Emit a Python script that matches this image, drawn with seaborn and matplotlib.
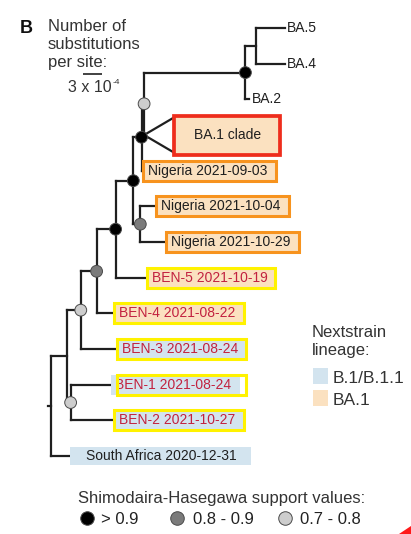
import matplotlib
matplotlib.use("Agg")
import matplotlib.pyplot as plt
from matplotlib.patches import Rectangle, Polygon
import pandas as pd
import seaborn as sns

# ---------------------------------------------------------------------------
# Tree: nodes in pre-order (children listed top to bottom),
# branch lengths in units of 1e-4 substitutions per site
# ---------------------------------------------------------------------------
node_name = ["root", "A", "B", "D", "E", "F", "G", "I", "J", "K",
             "BA.5", "BA.4", "BA.2", "BA.1 clade", "Nigeria 2021-09-03",
             "H", "Nigeria 2021-10-04", "Nigeria 2021-10-29",
             "BEN-5 2021-10-19", "BEN-4 2021-08-22", "BEN-3 2021-08-24",
             "C", "BEN-1 2021-08-24", "BEN-2 2021-10-27",
             "South Africa 2020-12-31"]
node_parent = [None, "root", "A", "B", "D", "E", "F", "G", "I", "J",
               "K", "K", "J", "I", "G",
               "F", "H", "H",
               "E", "D", "B",
               "A", "C", "C",
               "root"]
branch_len = [0.0, 2.5, 2.2, 2.5, 3.0, 2.8, 1.3, 0.4, 16.0, 1.6,
              4.6, 4.6, 0.6, 4.8, 0.3,
              1.1, 2.5, 4.1,
              4.9, 2.8, 5.7,
              0.6, 6.3, 6.9,
              3.0]

# Shimodaira-Hasegawa support of internal nodes
support_node = ["G", "I", "J", "F", "H", "E", "D", "B", "C"]
support_class = ["> 0.9", "0.7 - 0.8", "> 0.9", "> 0.9", "0.8 - 0.9",
                 "> 0.9", "0.8 - 0.9", "0.7 - 0.8", "0.7 - 0.8"]

# Boxed tip labels: Nextstrain lineage and sample-origin frame
boxed_leaf = ["BA.1 clade", "Nigeria 2021-09-03", "Nigeria 2021-10-04",
              "Nigeria 2021-10-29", "BEN-5 2021-10-19", "BEN-4 2021-08-22",
              "BEN-3 2021-08-24", "BEN-1 2021-08-24", "BEN-2 2021-10-27",
              "South Africa 2020-12-31"]
boxed_lineage = ["BA.1", "BA.1", "BA.1", "BA.1", "BA.1", "BA.1",
                 "B.1/B.1.1", "B.1/B.1.1", "B.1/B.1.1", "B.1/B.1.1"]
boxed_frame = ["clade", "Nigeria", "Nigeria", "Nigeria", "Benin", "Benin",
               "Benin", "Benin", "Benin", None]

lineage_names = ["B.1/B.1.1", "BA.1"]
support_levels = ["> 0.9", "0.8 - 0.9", "0.7 - 0.8"]
scale_bar_len = 3  # x 1e-4

# ---------------------------------------------------------------------------
# Styling
# ---------------------------------------------------------------------------
W, H = 411, 534
DARK = "#1f1f1f"
BEN_TEXT = "#c2223f"
lineage_color = {"B.1/B.1.1": "#d3e4ef", "BA.1": "#fbe1c0"}
frame_color = {"clade": "#ee2d1c", "Nigeria": "#f7931e", "Benin": "#fff200"}
support_color = {"> 0.9": "#000000", "0.8 - 0.9": "#7b7b7b", "0.7 - 0.8": "#cdcdcd"}

sns.set_theme(style="white")
plt.rcParams["font.family"] = ["Liberation Sans", "DejaVu Sans"]

fig = plt.figure(figsize=(W / 100, H / 100), dpi=100)
ax = fig.add_axes([0, 0, 1, 1])
ax.set_axis_off()

# pixel scale of the tree panel
PX_X, X0 = 6.333, 51.0   # px per 1e-4 subs, root position
PX_Y, Y0 = 35.67, 28.0   # px per tip row, first tip row


def set_limits():
    ax.set_xlim(-X0 / PX_X, (W - X0) / PX_X)
    ax.set_ylim((H - Y0) / PX_Y, -Y0 / PX_Y)
    ax.set_axis_off()


def dx(px):
    return px / PX_X


def dy(px):
    return px / PX_Y


def fx(px):
    return px / W


def fy(py):
    return 1 - py / H


set_limits()

# ---------------------------------------------------------------------------
# Layout of the rectangular tree
# ---------------------------------------------------------------------------
xpos, children = {}, {n: [] for n in node_name}
for n, p, bl in zip(node_name, node_parent, branch_len):
    xpos[n] = 0.0 if p is None else xpos[p] + bl
    if p is not None:
        children[p].append(n)
leaves = [n for n in node_name if not children[n]]
ypos = {n: float(i) for i, n in enumerate(leaves)}
for n in reversed(node_name):
    if children[n]:
        ypos[n] = (ypos[children[n][0]] + ypos[children[n][-1]]) / 2

line_kw = dict(color=DARK, lw=1.6, solid_capstyle="projecting", zorder=2)
for n, p in zip(node_name, node_parent):
    if children[n]:
        ys = [ypos[c] for c in children[n]]
        ax.plot([xpos[n], xpos[n]], [min(ys), max(ys)], **line_kw)
    if p is None:
        ax.plot([xpos[n] - 0.55, xpos[n]], [ypos[n], ypos[n]], **line_kw)
    elif n == "BA.1 clade":
        for off in (-0.5, 0.5):
            ax.plot([xpos[p], xpos[n]], [ypos[n], ypos[n] + off],
                    color=DARK, lw=1.6, zorder=2)
    else:
        ax.plot([xpos[p], xpos[n]], [ypos[n], ypos[n]], **line_kw)

# support circles
nodes_df = pd.DataFrame({
    "x": [xpos[n] for n in support_node],
    "y": [ypos[n] for n in support_node],
    "support": support_class,
})
sns.scatterplot(data=nodes_df, x="x", y="y", hue="support", palette=support_color,
                s=72, edgecolor="#4a4a4a", linewidth=0.7, legend=False,
                zorder=5, ax=ax)
set_limits()

# ---------------------------------------------------------------------------
# Tip labels
# ---------------------------------------------------------------------------
renderer = fig.canvas.get_renderer()
for n in leaves:
    if n in boxed_leaf:
        continue
    ax.text(xpos[n] + dx(2.5), ypos[n], n, fontsize=10, color=DARK,
            va="center", ha="left", zorder=6)

for n, lin, fr in zip(boxed_leaf, boxed_lineage, boxed_frame):
    x0, yc = xpos[n], ypos[n]
    face = lineage_color[lin]
    if fr == "clade":
        bw, bh = 106, 39
        ax.add_patch(Rectangle((x0, yc - dy(bh) / 2), dx(bw), dy(bh),
                               facecolor=face, edgecolor=frame_color[fr],
                               lw=2.7, zorder=3))
        ax.text(x0 + dx(bw) / 2, yc, n, fontsize=10, color=DARK,
                ha="center", va="center", zorder=6)
        continue
    if fr is None:
        pad_l, pad_r, bh = 16, 14, 18
    else:
        pad_l, pad_r, bh = 5, 8, 20
    # the BEN-1 frame sits a few pixels right of its fill, covering the "B"
    shift = 6 if n.startswith("BEN-1") else 0
    text_x = x0 + dx(4 if shift else pad_l)
    color = BEN_TEXT if fr == "Benin" else DARK
    t = ax.text(text_x, yc, n, fontsize=10, color=color, va="center",
                ha="left", zorder=6)
    w = t.get_window_extent(renderer=renderer).width
    bw = pad_l + w + pad_r
    ax.add_patch(Rectangle((x0, yc - dy(bh) / 2), dx(bw), dy(bh),
                           facecolor=face, edgecolor="none", zorder=3))
    if fr is not None:
        ax.add_patch(Rectangle((x0 + dx(shift), yc - dy(bh) / 2), dx(bw), dy(bh),
                               facecolor="none", edgecolor=frame_color[fr],
                               lw=2.2, zorder=7 if shift else 4))

# ---------------------------------------------------------------------------
# Panel letter, scale bar
# ---------------------------------------------------------------------------
fig.text(fx(20), fy(33), "B", fontsize=13, fontweight="bold", color="#111111",
         va="baseline", ha="left")
for txt, base in zip(["Number of", "substitutions", "per site:"], [31, 49, 67]):
    fig.text(fx(48), fy(base), txt, fontsize=12, color="#333333",
             va="baseline", ha="left")
fig.text(fx(68), fy(92), "3 x 10", fontsize=11.5, color="#333333",
         va="baseline", ha="left")
fig.text(fx(113), fy(84), "-4", fontsize=6, color="#333333",
         va="baseline", ha="left")
sb_x, sb_y = dx(83 - X0), dy(74 - Y0)
ax.plot([sb_x, sb_x + scale_bar_len], [sb_y, sb_y], color="#333333", lw=1.3,
        solid_capstyle="butt")

# ---------------------------------------------------------------------------
# Lineage legend
# ---------------------------------------------------------------------------
fig.text(fx(312), fy(337), "Nextstrain", fontsize=12, color="#333333", va="baseline")
fig.text(fx(312), fy(355), "lineage:", fontsize=12, color="#333333", va="baseline")
for lin, top, base in zip(lineage_names, [368, 390], [383, 405]):
    fig.patches.append(Rectangle((fx(313), fy(top + 16)), fx(15), 16 / H,
                                 transform=fig.transFigure,
                                 facecolor=lineage_color[lin], edgecolor="none"))
    fig.text(fx(333), fy(base), lin, fontsize=12.5, color="#333333", va="baseline")

# ---------------------------------------------------------------------------
# Support legend
# ---------------------------------------------------------------------------
fig.text(fx(78), fy(503), "Shimodaira-Hasegawa support values:", fontsize=12,
         color="#333333", va="baseline")
for lvl, cx, tx in zip(support_levels, [87, 177, 285], [101, 193, 300]):
    ax.scatter([fx(cx)], [fy(518)], s=95, color=support_color[lvl],
               edgecolor="#4a4a4a", linewidth=0.7, transform=fig.transFigure,
               clip_on=False, zorder=5)
    fig.text(fx(tx), fy(524), lvl, fontsize=12, color="#222222", va="baseline")

# arrow tip entering the lower-right corner
fig.patches.append(Polygon([(fx(399), fy(534)), (fx(411), fy(526)), (fx(411), fy(534))],
                           closed=True, transform=fig.transFigure,
                           facecolor="#ff1a1a", edgecolor="none"))

fig.savefig("out.png", dpi=100, facecolor="white")
